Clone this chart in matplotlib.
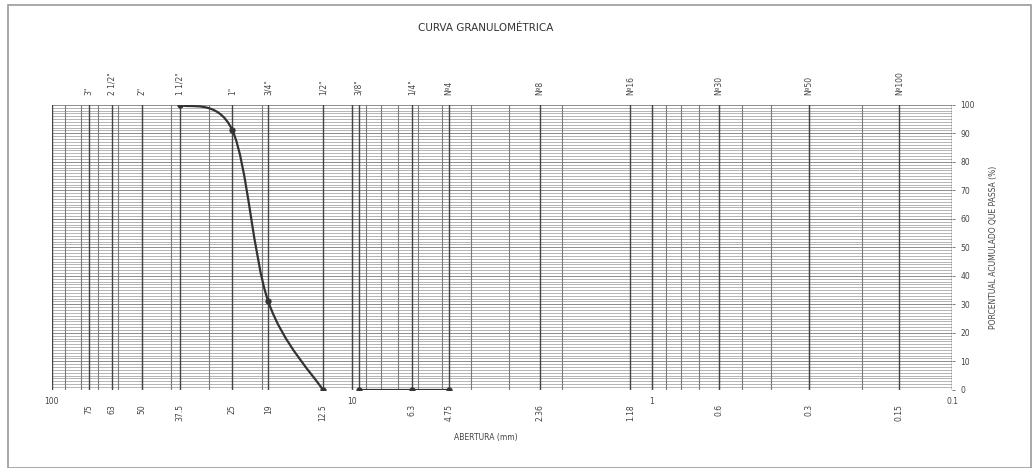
import numpy as np
import matplotlib
matplotlib.use("Agg")
from matplotlib import pyplot as plt
from matplotlib.path import Path
from matplotlib.patches import PathPatch, Rectangle

# sieve openings (mm) and their names
sieve_mm = [75, 63, 50, 37.5, 25, 19, 12.5, 9.5, 6.3, 4.75, 2.36, 1.18, 0.6, 0.3, 0.15]
sieve_names = ['3"', '2 1/2"', '2"', '1 1/2"', '1"', '3/4"', '1/2"', '3/8"', '1/4"',
               'Nº4', 'Nº8', 'Nº16', 'Nº30', 'Nº50', 'Nº100']

# bottom labels (mm)
bottom_vals = [100, 75, 63, 50, 37.5, 25, 19, 12.5, 10, 6.3, 4.75, 2.36, 1.18, 1, 0.6, 0.3, 0.15, 0.1]
bottom_text = ["100", "75", "63", "50", "37.5", "25", "19", "12.5", "10", "6.3", "4.75",
               "2.36", "1.18", "1", "0.6", "0.3", "0.15", "0.1"]
flat_labels = {100, 10, 1, 0.1}

# grading results: smooth part and the tail at zero
curve_mm = [37.5, 25, 19, 12.5]
curve_pass = [100, 91, 31, 0]
tail_mm = [9.5, 6.3, 4.75]
tail_pass = [0, 0, 0]

line_col = "#333333"


def smooth_path(xs, ys):
    """Catmull-Rom style bezier through the points, built in log-x space"""
    lx = np.log10(xs)
    pts = np.column_stack([lx, ys])
    ext = np.vstack([pts[0], pts, pts[-1]])
    verts = [pts[0]]
    codes = [Path.MOVETO]
    for i in range(len(pts) - 1):
        p0, p1, p2, p3 = ext[i], ext[i + 1], ext[i + 2], ext[i + 3]
        c1 = p1 + (p2 - p0) / 6.0
        c2 = p2 - (p3 - p1) / 6.0
        verts += [c1, c2, p2]
        codes += [Path.CURVE4] * 3
    verts = np.array(verts)
    verts[:, 0] = 10 ** verts[:, 0]
    return Path(verts, codes)


fig = plt.figure(figsize=(10.35, 4.68), dpi=100)
ax = fig.add_axes([0.050, 0.167, 0.870, 0.609])

ax.set_xscale("log")
ax.set_xlim(100, 0.1)
ax.set_ylim(0, 100)

# horizontal rulings every 1 %
for v in range(0, 101):
    ax.axhline(v, color="#b4b4b4" if v % 10 else "#8c8c8c", linewidth=0.7, zorder=1)

# log rulings
for dec in (10, 1, 0.1):
    for k in range(1, 10):
        v = dec * k
        if 0.1 <= v <= 100:
            ax.axvline(v, color="#7a7a7a", linewidth=0.8, zorder=2)

# sieve rulings
for v in sieve_mm:
    ax.axvline(v, color="#444444", linewidth=1.0, zorder=3)
for v in (100, 10, 1, 0.1):
    ax.axvline(v, color="#444444", linewidth=1.0, zorder=3)

# grading curve
ax.add_patch(PathPatch(smooth_path(curve_mm, curve_pass), facecolor="none",
                       edgecolor=line_col, linewidth=1.6, zorder=5))
ax.plot(curve_mm, curve_pass, linestyle="none", marker="o", markersize=3.5,
        color=line_col, zorder=6)
ax.plot(tail_mm, tail_pass, color=line_col, linewidth=1.6, marker="o",
        markersize=3.5, zorder=6)

for s in ax.spines.values():
    s.set_visible(False)

ax.set_xticks([])
ax.minorticks_off()
ax.tick_params(axis="x", which="both", length=0, labelbottom=False)

ax.yaxis.tick_right()
ax.set_yticks(range(0, 101, 10))
ax.set_yticklabels([str(v) for v in range(0, 101, 10)], fontsize=5.5, color="#444444")
ax.tick_params(axis="y", length=2, width=0.6, color="#666666", pad=4)
ax.set_ylabel("PORCENTUAL ACUMULADO QUE PASSA (%)", fontsize=5.5, color="#444444",
              labelpad=10)
ax.yaxis.set_label_position("right")

trans_top = ax.get_xaxis_transform()
for v, name in zip(sieve_mm, sieve_names):
    ax.text(v, 1.035, name, rotation=90, ha="center", va="bottom", fontsize=5.5,
            color="#444444", transform=trans_top)

for v, t in zip(bottom_vals, bottom_text):
    if v in flat_labels:
        ax.text(v, -0.025, t, ha="center", va="top", fontsize=5.5, color="#444444",
                transform=trans_top)
    else:
        ax.text(v, -0.05, t, rotation=90, ha="center", va="top", fontsize=5.5,
                color="#444444", transform=trans_top)

fig.text(0.469, 0.94, "CURVA GRANULOMÉTRICA", ha="center", va="center",
         fontsize=7.5, color="#333333")
fig.text(0.469, 0.066, "ABERTURA (mm)", ha="center", va="center", fontsize=5.5,
         color="#444444")

# frame round the sheet
fig.patches.append(Rectangle((0.008, 0.0), 0.988, 0.99, transform=fig.transFigure,
                             facecolor="none", edgecolor="#999999", linewidth=1.2))

fig.savefig("out.png", dpi=100)
